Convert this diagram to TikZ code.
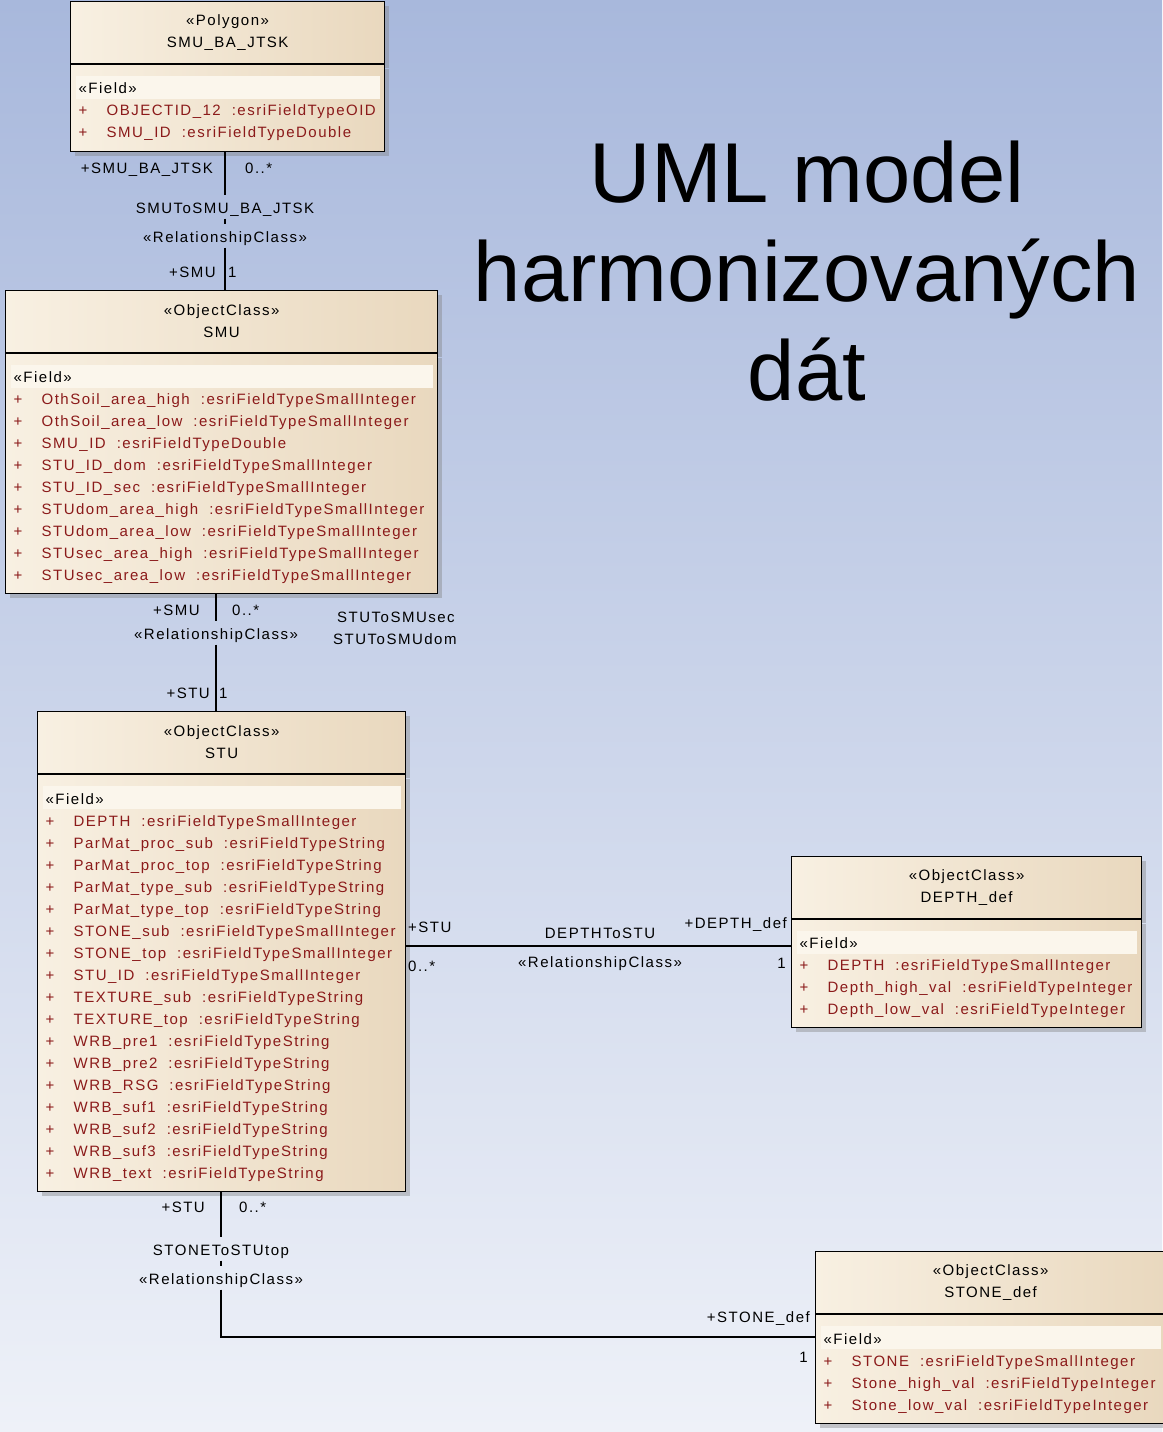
\documentclass[tikz,border=0pt]{standalone}
\usepackage{fontspec}
\setmainfont{Liberation Sans}
\newfontfamily\umlfont[LetterSpace=10]{Liberation Sans}
\usetikzlibrary{positioning,shadows}

\definecolor{bgtop}{HTML}{A8B8DC}
\definecolor{bgbot}{HTML}{EEF1F8}
\definecolor{creamleft}{HTML}{F8F0E2}
\definecolor{creamright}{HTML}{E9D8BE}
\definecolor{fieldband}{HTML}{FBF6EC}
\definecolor{fieldred}{HTML}{8B1A1A}

\newcommand{\umltext}{\umlfont\fontsize{15}{22}\selectfont}
\newcommand{\fieldhdr}{\rule{0pt}{18.5pt}«Field»}
\newcommand{\fld}[2]{\textcolor{fieldred}{\makebox[28pt][l]{+}#1\hspace{11pt}:#2}}

\tikzset{
  umlbox/.style={draw=black, line width=1.2pt, left color=creamleft, right color=creamright,
    anchor=north west, inner sep=0pt,
    drop shadow={shadow xshift=4pt, shadow yshift=-4pt, fill=black!50, opacity=0.4}},
  umlhead/.style={umlbox, text width=#1, minimum height=62pt, align=center, font=\umltext},
  umlbody/.style 2 args={umlbox, text width=#1, minimum height=#2, inner xsep=8pt,
    align=left, font=\umltext,
    path picture={\fill[fieldband] ([xshift=5pt,yshift=-11pt]path picture bounding box.north west)
      rectangle ([xshift=-5pt,yshift=-34pt]path picture bounding box.north east);}},
  rolelbl/.style={font=\umltext, inner sep=0pt, yshift=-3pt},
  rellbl/.style={font=\umltext, inner sep=0pt, text height=16.5pt, text depth=3pt, minimum height=23pt},
  conn/.style={line width=1.5pt}
}

\begin{document}
\begin{tikzpicture}[x=1pt, y=-1pt]
  \useasboundingbox (0,0) rectangle (1162,1432);
  \shade[top color=bgtop, bottom color=bgbot] (0,0) rectangle (1162,1432);

  % title
  \node[font=\fontsize{85}{99}\selectfont, align=center, inner sep=0pt] (title) at (807,271)
    {UML model\\harmonizovaných\\dát};

  % classes
  \node[umlhead=314pt] (jtskhead) at (70,1) {«Polygon»\\SMU\_BA\_JTSK};
  \node[umlbody={298pt}{87pt}] (jtskbody) at (jtskhead.south west) {\fieldhdr\\
    \fld{OBJECTID\_12}{esriFieldTypeOID}\\
    \fld{SMU\_ID}{esriFieldTypeDouble}};

  \node[umlhead=432pt] (smuhead) at (5,290) {«ObjectClass»\\SMU};
  \node[umlbody={416pt}{240pt}] (smubody) at (smuhead.south west) {\fieldhdr\\
    \fld{OthSoil\_area\_high}{esriFieldTypeSmallInteger}\\
    \fld{OthSoil\_area\_low}{esriFieldTypeSmallInteger}\\
    \fld{SMU\_ID}{esriFieldTypeDouble}\\
    \fld{STU\_ID\_dom}{esriFieldTypeSmallInteger}\\
    \fld{STU\_ID\_sec}{esriFieldTypeSmallInteger}\\
    \fld{STUdom\_area\_high}{esriFieldTypeSmallInteger}\\
    \fld{STUdom\_area\_low}{esriFieldTypeSmallInteger}\\
    \fld{STUsec\_area\_high}{esriFieldTypeSmallInteger}\\
    \fld{STUsec\_area\_low}{esriFieldTypeSmallInteger}};

  \node[umlhead=368pt] (stuhead) at (37,711) {«ObjectClass»\\STU};
  \node[umlbody={352pt}{417pt}] (stubody) at (stuhead.south west) {\fieldhdr\\
    \fld{DEPTH}{esriFieldTypeSmallInteger}\\
    \fld{ParMat\_proc\_sub}{esriFieldTypeString}\\
    \fld{ParMat\_proc\_top}{esriFieldTypeString}\\
    \fld{ParMat\_type\_sub}{esriFieldTypeString}\\
    \fld{ParMat\_type\_top}{esriFieldTypeString}\\
    \fld{STONE\_sub}{esriFieldTypeSmallInteger}\\
    \fld{STONE\_top}{esriFieldTypeSmallInteger}\\
    \fld{STU\_ID}{esriFieldTypeSmallInteger}\\
    \fld{TEXTURE\_sub}{esriFieldTypeString}\\
    \fld{TEXTURE\_top}{esriFieldTypeString}\\
    \fld{WRB\_pre1}{esriFieldTypeString}\\
    \fld{WRB\_pre2}{esriFieldTypeString}\\
    \fld{WRB\_RSG}{esriFieldTypeString}\\
    \fld{WRB\_suf1}{esriFieldTypeString}\\
    \fld{WRB\_suf2}{esriFieldTypeString}\\
    \fld{WRB\_suf3}{esriFieldTypeString}\\
    \fld{WRB\_text}{esriFieldTypeString}};

  \node[umlhead=350pt] (depthhead) at (791,856) {«ObjectClass»\\DEPTH\_def};
  \node[umlbody={334pt}{108pt}] (depthbody) at (depthhead.south west) {\fieldhdr\\
    \fld{DEPTH}{esriFieldTypeSmallInteger}\\
    \fld{Depth\_high\_val}{esriFieldTypeInteger}\\
    \fld{Depth\_low\_val}{esriFieldTypeInteger}};

  \node[umlhead=350pt] (stonehead) at (815,1251) {«ObjectClass»\\STONE\_def};
  \node[umlbody={334pt}{109pt}] (stonebody) at (stonehead.south west) {\fieldhdr\\
    \fld{STONE}{esriFieldTypeSmallInteger}\\
    \fld{Stone\_high\_val}{esriFieldTypeInteger}\\
    \fld{Stone\_low\_val}{esriFieldTypeInteger}};

  % SMU -- SMU_BA_JTSK
  \node[rellbl] (jtskrel) at (225,207) {SMUToSMU\_BA\_JTSK};
  \node[rellbl] (jtskst) at (225,236) {«RelationshipClass»};
  \draw[conn] (jtskbody.south -| jtskrel) -- (jtskrel.north);
  \draw[conn] (jtskrel.south) -- (jtskst.north);
  \draw[conn] (jtskst.south) -- (smuhead.north -| jtskst);
  \node[rolelbl, anchor=mid east] (jtskrole) at (213,168) {+SMU\_BA\_JTSK};
  \node[rolelbl, anchor=mid west] (jtskmult) at (245,168) {0..*};
  \node[rolelbl, anchor=mid east] (smurole) at (216,272) {+SMU};
  \node[rolelbl, anchor=mid west] (smumult) at (228,272) {1};

  % STU -- SMU
  \node[rellbl] (smust) at (216,633) {«RelationshipClass»};
  \draw[conn] (smubody.south -| smust) -- (smust.north);
  \draw[conn] (smust.south) -- (stuhead.north -| smust);
  \node[rolelbl, anchor=mid east] (smurole2) at (200,610) {+SMU};
  \node[rolelbl, anchor=mid west] (smumult2) at (232,610) {0..*};
  \node[rolelbl, anchor=mid west] (secname) at (337,617) {STUToSMUsec};
  \node[rolelbl, anchor=mid west] (domname) at (333,639) {STUToSMUdom};
  \node[rolelbl, anchor=mid east] (sturole) at (210,693) {+STU};
  \node[rolelbl, anchor=mid west] (stumult) at (219,693) {1};

  % DEPTH_def -- STU
  \coordinate (depthjoin) at (600,946);
  \node[rellbl] (depthrel) at (600,932) {DEPTHToSTU};
  \node[rellbl] (depthst) at (600,961) {«RelationshipClass»};
  \draw[conn] (stubody.east |- depthjoin) -- (depthbody.west |- depthjoin);
  \node[rolelbl, anchor=mid west] (sturole2) at (408,927) {+STU};
  \node[rolelbl, anchor=mid west] (stumult2) at (408,966) {0..*};
  \node[rolelbl, anchor=mid east] (depthrole) at (787,923) {+DEPTH\_def};
  \node[rolelbl, anchor=mid east] (depthmult) at (786,963) {1};

  % STONE_def -- STU
  \coordinate (stonejoin) at (221,1337);
  \node[rellbl] (stonerel) at (221,1249) {STONEToSTUtop};
  \node[rellbl] (stonest) at (221,1278) {«RelationshipClass»};
  \draw[conn] (stubody.south -| stonerel) -- (stonerel.north);
  \draw[conn] (stonerel.south) -- (stonest.north);
  \draw[conn] (stonest.south) -- (stonejoin) -- (stonebody.west |- stonejoin);
  \node[rolelbl, anchor=mid east] (sturole3) at (205,1207) {+STU};
  \node[rolelbl, anchor=mid west] (stumult3) at (239,1207) {0..*};
  \node[rolelbl, anchor=mid east] (stonerole) at (810,1317) {+STONE\_def};
  \node[rolelbl, anchor=mid east] (stonemult) at (808,1357) {1};
\end{tikzpicture}
\end{document}
